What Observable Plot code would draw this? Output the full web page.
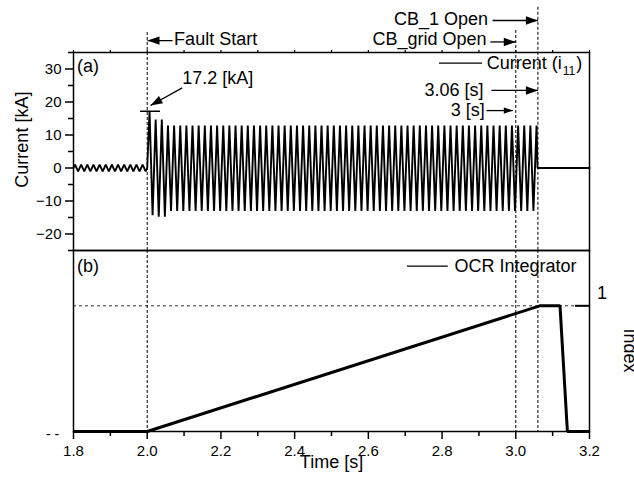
<!DOCTYPE html>
<html><head><meta charset="utf-8">
<script src="https://cdn.jsdelivr.net/npm/d3@7"></script>
<script src="https://cdn.jsdelivr.net/npm/@observablehq/plot@0.6"></script>
<style>
html,body{margin:0;padding:0;background:#fff;overflow:hidden;}
#chart{position:relative;width:634px;height:483px;}
#chart svg{display:block;}
</style></head><body><div id="chart"></div>
<script>
// ---- data ----
// extrema of the current waveform i11 [kA] and their times [s]
const currentT = [
  1.8,
  1.8042,1.8125,1.8208,1.8292,1.8375,1.8458,1.8542,1.8625,1.8708,1.8792,1.8875,1.8958,
  1.9042,1.9125,1.9208,1.9292,1.9375,1.9458,1.9542,1.9625,1.9708,1.9792,1.9875,1.9958,
  2.0,
  2.0063,2.0146,2.0229,2.0313,2.0396,2.0479,2.0563,2.0646,2.0729,2.0813,2.0896,2.0979,
  2.1063,2.1146,2.1229,2.1313,2.1396,2.1479,2.1563,2.1646,2.1729,2.1813,2.1896,2.1979,
  2.2063,2.2146,2.2229,2.2313,2.2396,2.2479,2.2563,2.2646,2.2729,2.2813,2.2896,2.2979,
  2.3063,2.3146,2.3229,2.3313,2.3396,2.3479,2.3563,2.3646,2.3729,2.3813,2.3896,2.3979,
  2.4063,2.4146,2.4229,2.4313,2.4396,2.4479,2.4563,2.4646,2.4729,2.4813,2.4896,2.4979,
  2.5063,2.5146,2.5229,2.5313,2.5396,2.5479,2.5563,2.5646,2.5729,2.5813,2.5896,2.5979,
  2.6063,2.6146,2.6229,2.6313,2.6396,2.6479,2.6563,2.6646,2.6729,2.6813,2.6896,2.6979,
  2.7063,2.7146,2.7229,2.7313,2.7396,2.7479,2.7563,2.7646,2.7729,2.7813,2.7896,2.7979,
  2.8063,2.8146,2.8229,2.8313,2.8396,2.8479,2.8563,2.8646,2.8729,2.8813,2.8896,2.8979,
  2.9063,2.9146,2.9229,2.9313,2.9396,2.9479,2.9563,2.9646,2.9729,2.9813,2.9896,2.9979,
  3.0063,3.0146,3.0229,3.0313,3.0396,3.0479,3.0563,
  3.059, 3.2
];
const currentKA = [
  0,
  1,-1,1,-1,1,-1,1,-1,1,-1,1,-1,
  1,-1,1,-1,1,-1,1,-1,1,-1,1,-1,
  0,
  17.2,-14.3,14.7,-14.8,14.7,-14.8,12.9,-13,12.9,-13,12.9,-13,
  12.9,-13,12.9,-13,12.9,-13,12.9,-13,12.9,-13,12.9,-13,
  12.9,-13,12.9,-13,12.9,-13,12.9,-13,12.9,-13,12.9,-13,
  12.9,-13,12.9,-13,12.9,-13,12.9,-13,12.9,-13,12.9,-13,
  12.9,-13,12.9,-13,12.9,-13,12.9,-13,12.9,-13,12.9,-13,
  12.9,-13,12.9,-13,12.9,-13,12.9,-13,12.9,-13,12.9,-13,
  12.9,-13,12.9,-13,12.9,-13,12.9,-13,12.9,-13,12.9,-13,
  12.9,-13,12.9,-13,12.9,-13,12.9,-13,12.9,-13,12.9,-13,
  12.9,-13,12.9,-13,12.9,-13,12.9,-13,12.9,-13,12.9,-13,
  12.9,-13,12.9,-13,12.9,-13,12.9,-13,12.9,-13,12.9,-13,
  12.9,-13,12.9,-13,12.9,-13,12.9,
  0, 0
];
const ocrT = [1.8, 2.0, 3.065, 3.12, 3.14, 3.2];
const ocrIndex = [0, 0, 1, 1, 0, 0];
const eventTimes = [2.0, 3.0, 3.06];
const peakCurrent = 17.2;
const currentTicks = [-20, -10, 0, 10, 20, 30];
const currentMinorTicks = [-25, -15, -5, 5, 15, 25, 35];
const timeTicks = [1.8, 2.0, 2.2, 2.4, 2.6, 2.8, 3.0, 3.2];
const timeMinorTicks = [1.9, 2.1, 2.3, 2.5, 2.7, 2.9, 3.1];
const indexTicks = [1];

// ---- tables for the library ----
const currentData = currentT.map((t, k) => ({t, i: currentKA[k]}));
const ocrData = ocrT.map((t, k) => ({t, v: ocrIndex[k]}));

const FONT = "'Liberation Sans', Arial, Helvetica, sans-serif";
const baseStyle = {fontFamily: FONT, fontSize: "15px", color: "black", background: "none", overflow: "visible"};

// filled arrow heads (tip at origin, pointing up before rotation)
const headBig = {draw(ctx) { ctx.moveTo(0, 0); ctx.lineTo(4.2, 12); ctx.lineTo(-4.2, 12); ctx.closePath(); }};
const headSmall = {draw(ctx) { ctx.moveTo(0, 0); ctx.lineTo(3.2, 9); ctx.lineTo(-3.2, 9); ctx.closePath(); }};
const one = [0];
const arrow = (x1, y1, x2, y2, rot, head) => [
  Plot.link(one, {x1, y1, x2, y2, stroke: "black", strokeWidth: 1.3}),
  Plot.dot(one, {x: x2, y: y2, symbol: head || headBig, rotate: rot, fill: "black", stroke: "none", r: 4})
];
const txt = (s, o) => Plot.text([s], {text: d => d, fontSize: 18, fill: "black", ...o});

// ---- top panel (a) ----
const topPlot = Plot.plot({
  width: 634, height: 250,
  marginLeft: 73, marginRight: 45, marginTop: 52, marginBottom: 0,
  x: {domain: [1.8, 3.2], axis: null},
  y: {domain: [-25, 35], axis: null},
  style: baseStyle,
  marks: [
    Plot.ruleX([eventTimes[0]], {y1: 41.06, y2: -25, stroke: "black", strokeWidth: 1, strokeDasharray: "3,2"}),
    Plot.ruleX([eventTimes[1]], {y1: 41.67, y2: -25, stroke: "black", strokeWidth: 1, strokeDasharray: "3,2"}),
    Plot.ruleX([eventTimes[2]], {y1: 48.7, y2: -25, stroke: "black", strokeWidth: 1, strokeDasharray: "3,2"}),
    Plot.line(currentData, {x: "t", y: "i", stroke: "black", strokeWidth: 1.9, strokeLinejoin: "miter"}),
    Plot.ruleY([peakCurrent], {x1: 1.982, x2: 2.036, stroke: "black", strokeWidth: 1.5}),
    Plot.frame({stroke: "black", strokeWidth: 1.5}),
    Plot.axisY(currentTicks, {anchor: "left", tickSize: 8, tickPadding: 4, fontSize: 15, strokeWidth: 1.5, label: null}),
    Plot.axisY(currentMinorTicks, {anchor: "left", tickSize: 5, fill: "none", strokeWidth: 1.5, label: null}),
    Plot.axisX(timeTicks.concat(timeMinorTicks), {anchor: "top", tickSize: 3, fill: "none", strokeWidth: 1.2, label: null}),
    // y axis title
    txt("Current [kA]", {frameAnchor: "left", dx: -51, y: 8.6, rotate: -90, textAnchor: "middle", lineAnchor: "middle"}),
    txt("(a)", {x: 1.8095, y: 30.9, textAnchor: "start", lineAnchor: "middle"}),
    // fault start
    ...arrow(2.0686, 38.6, 2.0008, 38.6, -90),
    txt("Fault Start", {x: 2.073, y: 38.9, textAnchor: "start", lineAnchor: "middle"}),
    // CB open annotations
    txt("CB_1 Open", {x: 2.9246, y: 45.1, textAnchor: "end", lineAnchor: "middle"}),
    ...arrow(2.937, 44.7, 3.06, 44.7, 90),
    txt("CB_grid Open", {x: 2.9205, y: 39.0, textAnchor: "end", lineAnchor: "middle"}),
    ...arrow(2.931, 38.2, 3.0, 38.2, 90),
    // legend
    Plot.ruleY([31.8], {x1: 2.793, x2: 2.910, stroke: "black", strokeWidth: 1.3}),
    txt("Current (i", {x: 2.921, y: 31.8, textAnchor: "start", lineAnchor: "middle"}),
    txt("11", {x: 2.921, y: 31.8, dx: 76, dy: 8, fontSize: 12, textAnchor: "start", lineAnchor: "middle"}),
    txt(")", {x: 2.921, y: 31.8, dx: 89.5, textAnchor: "start", lineAnchor: "middle"}),
    // time markers
    txt("3.06 [s]", {x: 2.9124, y: 23.5, textAnchor: "end", lineAnchor: "middle"}),
    ...arrow(2.934, 23.5, 3.06, 23.5, 90),
    txt("3 [s]", {x: 2.916, y: 17.6, textAnchor: "end", lineAnchor: "middle"}),
    ...arrow(2.9205, 17.4, 2.992, 17.4, 90, headSmall),
    // peak
    txt("17.2 [kA]", {x: 2.095, y: 27.1, textAnchor: "start", lineAnchor: "middle"}),
    ...arrow(2.0949, 24.3, 2.0089, 18.94, -119)
  ]
});

// ---- bottom panel (b) ----
const bottomPlot = Plot.plot({
  width: 634, height: 233,
  marginLeft: 73, marginRight: 45, marginTop: 0, marginBottom: 52,
  x: {domain: [1.8, 3.2], axis: null},
  y: {domain: [0, 1.44], axis: null},
  style: baseStyle,
  marks: [
    Plot.ruleY(indexTicks, {stroke: "#333", strokeWidth: 1, strokeDasharray: "3,3"}),
    Plot.ruleX(eventTimes, {stroke: "black", strokeWidth: 1, strokeDasharray: "3,2"}),
    Plot.line(ocrData, {x: "t", y: "v", stroke: "black", strokeWidth: 3, strokeLinejoin: "miter", strokeLinecap: "butt"}),
    Plot.ruleY(indexTicks, {x1: 3.162, x2: 3.2, stroke: "black", strokeWidth: 2}),
    Plot.frame({stroke: "black", strokeWidth: 1.5}),
    Plot.axisX(timeTicks, {anchor: "bottom", tickSize: 8, tickPadding: 6, tickFormat: ".1f", fontSize: 15, strokeWidth: 1.5, label: null}),
    Plot.axisX(timeMinorTicks, {anchor: "bottom", tickSize: 5, fill: "none", strokeWidth: 1.5, label: null}),
    Plot.text(indexTicks, {x: 3.2, y: d => d, text: d => String(d), dx: 12.5, dy: -13, fontSize: 18, fill: "black", textAnchor: "middle", lineAnchor: "middle"}),
    txt("Index", {frameAnchor: "right", dx: 40, y: 0.644, rotate: 90, textAnchor: "middle", lineAnchor: "middle"}),
    txt("Time [s]", {x: 2.5, frameAnchor: "bottom", dy: 31, textAnchor: "middle", lineAnchor: "middle"}),
    txt("(b)", {x: 1.8095, y: 1.317, textAnchor: "start", lineAnchor: "middle"}),
    Plot.ruleY([1.315], {x1: 2.706, x2: 2.817, stroke: "black", strokeWidth: 1.3}),
    txt("OCR Integrator", {x: 2.8337, y: 1.313, textAnchor: "start", lineAnchor: "middle"}),
    txt("- -", {x: 1.8, y: 0, dx: -21, dy: 3, fontSize: 14, textAnchor: "middle", lineAnchor: "middle"})
  ]
});

const chart = document.getElementById("chart");
chart.appendChild(topPlot);
chart.appendChild(bottomPlot);
</script></body></html>
